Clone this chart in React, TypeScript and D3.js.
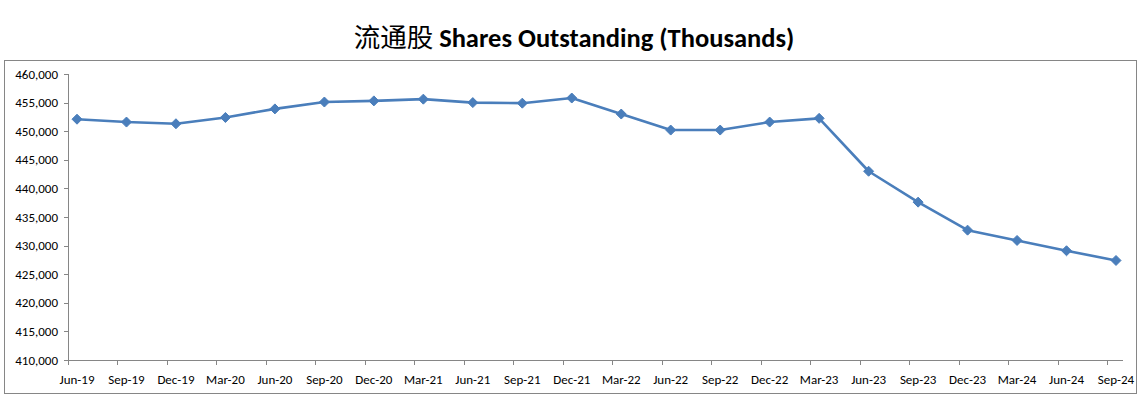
import React from "react";
import * as d3 from "d3";

const categories = [
  "Jun-19", "Sep-19", "Dec-19", "Mar-20", "Jun-20", "Sep-20", "Dec-20", "Mar-21",
  "Jun-21", "Sep-21", "Dec-21", "Mar-22", "Jun-22", "Sep-22", "Dec-22", "Mar-23",
  "Jun-23", "Sep-23", "Dec-23", "Mar-24", "Jun-24", "Sep-24",
];
const sharesOutstanding = [
  452100, 451600, 451300, 452400, 453900, 455100, 455300, 455600,
  455000, 454900, 455800, 453000, 450200, 450200, 451600, 452250,
  443000, 437600, 432700, 430900, 429100, 427400,
];
const yTicks = [410000, 415000, 420000, 425000, 430000, 435000, 440000, 445000, 450000, 455000, 460000];

const W = 1139;
const H = 399;
const axisLeft = 68;
const axisRight = 1123;
const top = 74;
const bottom = 360;
const font = "Carlito, Calibri, Lato, 'Open Sans', sans-serif";

export default function App() {
  const x = d3.scalePoint<string>().domain(categories).range([77, 1116]);
  const y = d3.scaleLinear().domain([410000, 460000]).range([bottom, top]);
  const fmt = d3.format(",");
  const line = d3
    .line<number>()
    .x((_, i) => x(categories[i]) as number)
    .y((d) => y(d));
  const tickOffset = -9;
  const r = 5;
  const diamond = `M0,${-r}L${r},0L0,${r}L${-r},0Z`;

  return (
    <svg
      width={W}
      height={H}
      style={{ position: "absolute", left: 0, top: 0, background: "#fff" }}
    >
      <rect x={0} y={0} width={W} height={H} fill="#fff" />
      <text
        x={574}
        y={47}
        textAnchor="middle"
        fontSize={26.5}
        fill="#000"
      >
        <tspan fontFamily="'Noto Sans CJK SC', sans-serif" fontWeight={400}>
          流通股{" "}
        </tspan>
        <tspan fontFamily={font} fontWeight={700}>
          Shares Outstanding (Thousands)
        </tspan>
      </text>
      <rect x={4.5} y={60.5} width={1132} height={333} fill="none" stroke="#868686" strokeWidth={1} />
      {/* y axis */}
      <line x1={axisLeft + 0.5} x2={axisLeft + 0.5} y1={top} y2={bottom} stroke="#868686" />
      {yTicks.map((t) => (
        <g key={t}>
          <line x1={axisLeft - 4} x2={axisLeft} y1={Math.round(y(t)) + 0.5} y2={Math.round(y(t)) + 0.5} stroke="#868686" />
          <text
            x={axisLeft - 10}
            y={y(t) + 4.5}
            textAnchor="end"
            fontSize={13}
            fontFamily={font}
            fill="#000"
          >
            {fmt(t)}
          </text>
        </g>
      ))}
      {/* x axis */}
      <line x1={axisLeft} x2={axisRight} y1={bottom + 0.5} y2={bottom + 0.5} stroke="#868686" />
      {categories.map((c) => {
        const cx = x(c) as number;
        return (
          <g key={c}>
            <line
              x1={Math.round(cx + tickOffset) + 0.5}
              x2={Math.round(cx + tickOffset) + 0.5}
              y1={bottom}
              y2={bottom + 5}
              stroke="#868686"
            />
            <text
              x={cx}
              y={bottom + 24}
              textAnchor="middle"
              fontSize={13}
              fontFamily={font}
              fill="#000"
            >
              {c}
            </text>
          </g>
        );
      })}
      <path
        d={line(sharesOutstanding) as string}
        fill="none"
        stroke="#4a7ebb"
        strokeWidth={2.6}
        strokeLinejoin="round"
      />
      {sharesOutstanding.map((v, i) => (
        <path
          key={i}
          d={diamond}
          transform={`translate(${x(categories[i])},${y(v)})`}
          fill="#4a7ebb"
          stroke="#4a7ebb"
          strokeWidth={1}
        />
      ))}
    </svg>
  );
}
